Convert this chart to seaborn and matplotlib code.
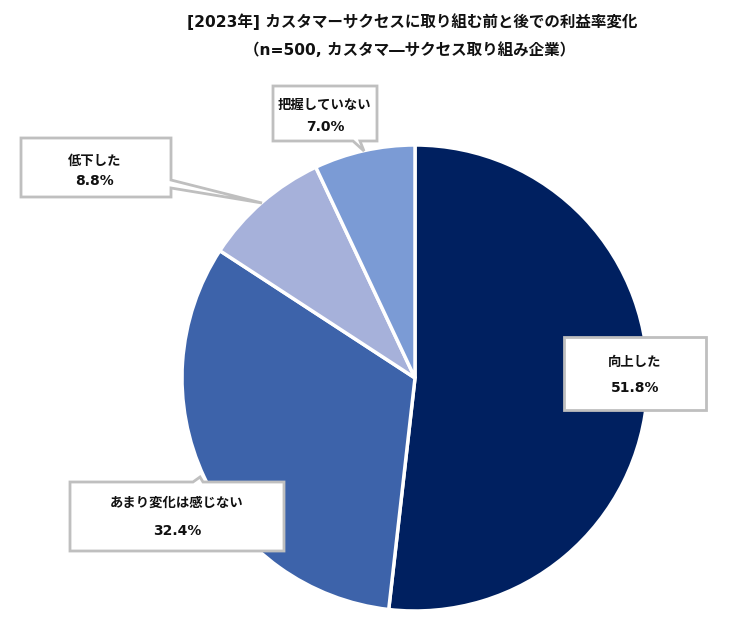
import matplotlib
matplotlib.use("Agg")
import matplotlib.pyplot as plt
import seaborn as sns
from matplotlib.patches import Polygon

# ---- data ----
categories = ["向上した", "あまり変化は感じない", "低下した", "把握していない"]
values = [51.8, 32.4, 8.8, 7.0]
colors = ["#002060", "#3D63AA", "#A6B1DA", "#7B9BD5"]
title_lines = ["[2023年] カスタマーサクセスに取り組む前と後での利益率変化",
               "（n=500, カスタマ―サクセス取り組み企業）"]

sns.set_theme(style="white")
plt.rcParams["font.family"] = ["DejaVu Sans", "Noto Sans CJK JP"]
CJK = ["Noto Sans CJK JP", "DejaVu Sans"]
LAT = ["DejaVu Sans", "Noto Sans CJK JP"]

W, H = 731, 620
fig = plt.figure(figsize=(W / 100, H / 100), dpi=100)
ax = fig.add_axes([0, 0, 1, 1])

def Y(y):
    return H - y

palette = sns.color_palette(colors)
ax.pie(values, colors=palette, startangle=90, counterclock=False,
       center=(415, Y(378)), radius=233,
       wedgeprops=dict(edgecolor="white", linewidth=2.5), frame=True)
ax.set_xlim(0, W)
ax.set_ylim(0, H)
ax.set_aspect("equal")
ax.axis("off")

# title
ax.text(412, Y(22), title_lines[0], ha="center", va="center",
        fontsize=11.2, fontweight="bold", color="#111111", family=LAT)
ax.text(410, Y(50), title_lines[1], ha="center", va="center",
        fontsize=11.2, fontweight="bold", color="#111111", family=LAT)

# callout boxes (pixel coords, y downward)
boxes = {
    0: [(564, 337), (706, 337), (706, 410), (564, 410)],
    1: [(70, 482), (193, 482), (200, 477), (203, 482), (284, 482),
        (284, 551), (70, 551)],
    2: [(21, 138), (171, 138), (171, 180), (262, 203), (171, 188),
        (171, 197), (21, 197)],
    3: [(273, 86), (377, 86), (377, 141), (360, 141), (364, 151),
        (353, 141), (273, 141)],
}
text_pos = {
    0: (635, 362, 388),
    1: (177, 503, 531),
    2: (95, 161, 181),
    3: (325, 105, 127),
}
for i, pts in boxes.items():
    poly = Polygon([(x, Y(y)) for x, y in pts], closed=True,
                   facecolor="white", edgecolor="#BFBFBF", linewidth=2,
                   zorder=5)
    ax.add_patch(poly)
    cx, y1, y2 = text_pos[i]
    ax.text(cx, Y(y1), categories[i], ha="center", va="center",
            fontsize=9.6, fontweight="bold", color="#111111", zorder=6,
            family=CJK)
    ax.text(cx, Y(y2), f"{values[i]:.1f}%", ha="center", va="center",
            fontsize=10, fontweight="bold", color="#111111", zorder=6,
            family=LAT)

fig.savefig("out.png", dpi=100, facecolor="white")
